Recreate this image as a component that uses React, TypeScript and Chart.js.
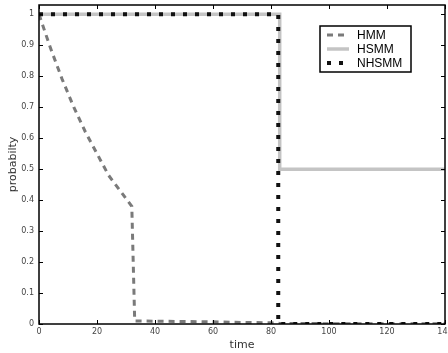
import React, { useEffect, useRef } from "react";
import { Chart, registerables } from "chart.js";

Chart.register(...registerables);

const hmmT = [0, 4, 8, 12, 16, 20, 24, 28, 32, 33, 40, 50, 60, 70, 80, 83, 100, 120, 140];
const hmmP = [1.0, 0.89, 0.79, 0.7, 0.62, 0.55, 0.48, 0.43, 0.38, 0.01, 0.009, 0.008, 0.007, 0.005, 0.004, 0.002, 0.001, 0.001, 0.001];
const hsmmT = [0, 83, 83, 140];
const hsmmP = [1, 1, 0.5, 0.5];
const nhsmmT = [0, 82.5, 82.5, 140];
const nhsmmP = [1, 1, 0, 0];
const xTicks = [0, 20, 40, 60, 80, 100, 120, 140];
const yTicks = [0, 0.1, 0.2, 0.3, 0.4, 0.5, 0.6, 0.7, 0.8, 0.9, 1];
const seriesNames = ["HMM", "HSMM", "NHSMM"];

const pts = (t: number[], p: number[]) => t.map((x, i) => ({ x, y: p[i] }));

const framePlugin = {
  id: "frame",
  afterDraw(chart: any) {
    const ctx = chart.ctx;
    const xs = chart.scales.x;
    const ys = chart.scales.y;
    const { left, right, top, bottom } = chart.chartArea;
    ctx.save();
    ctx.strokeStyle = "#000";
    ctx.lineWidth = 1.5;
    ctx.strokeRect(left, top, right - left, bottom - top);
    ctx.lineWidth = 1;
    ctx.beginPath();
    xTicks.forEach((v) => {
      const px = Math.round(xs.getPixelForValue(v)) + 0.5;
      ctx.moveTo(px, bottom);
      ctx.lineTo(px, bottom - 4);
      ctx.moveTo(px, top);
      ctx.lineTo(px, top + 4);
    });
    yTicks.forEach((v) => {
      const py = Math.round(ys.getPixelForValue(v)) + 0.5;
      ctx.moveTo(left, py);
      ctx.lineTo(left + 4, py);
      ctx.moveTo(right, py);
      ctx.lineTo(right - 4, py);
    });
    ctx.stroke();

    ctx.fillStyle = "#444";
    ctx.font = "8px 'DejaVu Sans', sans-serif";
    ctx.textAlign = "center";
    ctx.textBaseline = "middle";
    xTicks.forEach((v) => {
      ctx.fillText(String(v), xs.getPixelForValue(v), bottom + 8);
    });
    ctx.textAlign = "right";
    yTicks.forEach((v) => {
      ctx.fillText(String(v), left - 5, ys.getPixelForValue(v));
    });

    ctx.fillStyle = "#333";
    ctx.font = "11px 'DejaVu Sans', sans-serif";
    ctx.textAlign = "center";
    ctx.fillText("time", (left + right) / 2, bottom + 21);
    ctx.save();
    ctx.translate(13, (top + bottom) / 2);
    ctx.rotate(-Math.PI / 2);
    ctx.fillText("probabilty", 0, 0);
    ctx.restore();

    // legend
    const lx = 320, ly = 26, lw = 91, lh = 46;
    ctx.fillStyle = "#fff";
    ctx.fillRect(lx, ly, lw, lh);
    ctx.strokeStyle = "#000";
    ctx.lineWidth = 1.5;
    ctx.strokeRect(lx, ly, lw, lh);
    const rows = [35, 49, 63];
    const ds = chart.data.datasets;
    rows.forEach((ry, i) => {
      const d = ds[i];
      ctx.strokeStyle = d.borderColor;
      ctx.lineWidth = d.borderWidth;
      ctx.setLineDash(d.borderDash || []);
      ctx.beginPath();
      ctx.moveTo(327, ry);
      ctx.lineTo(349, ry);
      ctx.stroke();
      ctx.setLineDash([]);
      ctx.fillStyle = "#000";
      ctx.font = "12px 'Liberation Sans', Arial, sans-serif";
      ctx.textAlign = "left";
      ctx.fillText(seriesNames[i], 357, ry + 0.5);
    });
    ctx.restore();
  },
};

export default function App() {
  const ref = useRef<HTMLCanvasElement>(null);
  useEffect(() => {
    document.body.style.margin = "0";
    const chart = new Chart(ref.current!, {
      type: "line",
      data: {
        datasets: [
          {
            label: seriesNames[0],
            data: pts(hmmT, hmmP),
            borderColor: "#7a7a7a",
            borderWidth: 3,
            borderDash: [6, 5],
            pointRadius: 0,
            fill: false,
            tension: 0,
            order: 1,
          },
          {
            label: seriesNames[1],
            data: pts(hsmmT, hsmmP),
            borderColor: "#c4c4c4",
            borderWidth: 3.5,
            pointRadius: 0,
            fill: false,
            tension: 0,
            order: 2,
          },
          {
            label: seriesNames[2],
            data: pts(nhsmmT, nhsmmP),
            borderColor: "#111",
            borderWidth: 4,
            borderDash: [4, 8],
            pointRadius: 0,
            fill: false,
            tension: 0,
            order: 0,
          },
        ],
      },
      options: {
        animation: false,
        responsive: false,
        maintainAspectRatio: false,
        layout: { padding: { left: 39, right: 3, top: 5, bottom: 29 } },
        plugins: { legend: { display: false }, tooltip: { enabled: false } },
        scales: {
          x: { type: "linear", min: 0, max: 140, display: false },
          y: { type: "linear", min: 0, max: 1.03, display: false },
        },
      },
      plugins: [framePlugin],
    });
    return () => chart.destroy();
  }, []);
  return (
    <div style={{ position: "fixed", left: 0, top: 0, width: 448, height: 353, background: "#fff" }}>
      <canvas ref={ref} width={448} height={353} style={{ width: 448, height: 353 }} />
    </div>
  );
}
